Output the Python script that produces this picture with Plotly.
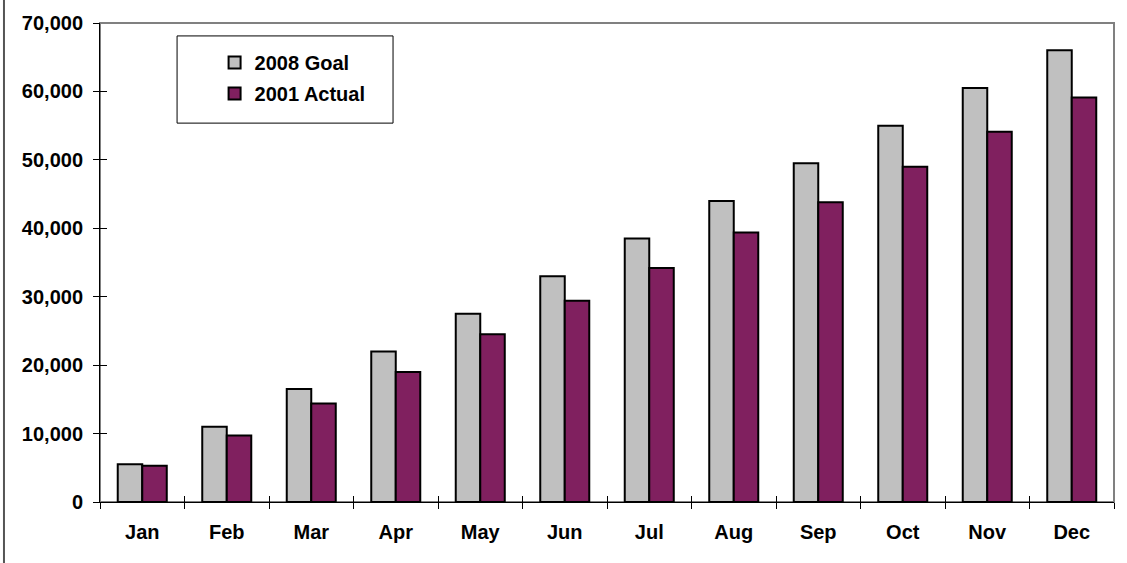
import plotly.graph_objects as go

months = ["Jan", "Feb", "Mar", "Apr", "May", "Jun", "Jul", "Aug", "Sep", "Oct", "Nov", "Dec"]
goal_2008 = [5500, 11000, 16500, 22000, 27500, 33000, 38500, 44000, 49500, 55000, 60500, 66000]
actual_2001 = [5300, 9700, 14400, 19000, 24500, 29400, 34200, 39400, 43800, 49000, 54100, 59100]
y_ticks = [0, 10000, 20000, 30000, 40000, 50000, 60000, 70000]

FONT = "Liberation Sans, Arial, sans-serif"
FS = 20

fig = go.Figure()
fig.add_trace(go.Bar(x=months, y=goal_2008, name="<b>2008 Goal</b>",
                     marker=dict(color="#C0C0C0", line=dict(color="black", width=2)),
                     legendgroup="a"))
fig.add_trace(go.Bar(x=months, y=actual_2001, name="<b>2001 Actual</b>",
                     marker=dict(color="#80205F", line=dict(color="black", width=2)),
                     legendgroup="b"))

fig.update_layout(
    width=1127, height=563,
    margin=dict(l=100, r=13, t=19, b=61),
    paper_bgcolor="white", plot_bgcolor="white",
    barmode="group", bargap=0.42, bargroupgap=0,
    font=dict(family=FONT, size=FS, color="black"),
    showlegend=True,
    legend=dict(x=0.113, y=0.958, xanchor="left", yanchor="top",
                bgcolor="rgba(0,0,0,0)", borderwidth=0,
                font=dict(family=FONT, size=FS, color="black"),
                traceorder="grouped", tracegroupgap=2),
    xaxis=dict(type="category", showline=True, linecolor="black", linewidth=1,
               ticks="outside", tickson="boundaries", ticklen=6, tickcolor="black",
               showgrid=False, tickfont=dict(family=FONT, size=FS, color="black"),
               ticklabelstandoff=12, range=[-0.5, 11.5],
               tickvals=months, ticktext=["<b>%s</b>" % m for m in months]),
    yaxis=dict(range=[0, 70000], tickvals=y_ticks,
               ticktext=["<b>{:,}</b>".format(v) for v in y_ticks],
               showline=True, linecolor="black", linewidth=1,
               ticks="outside", ticklen=6, tickcolor="black", showgrid=False,
               zeroline=False, tickfont=dict(family=FONT, size=FS, color="black"),
               ticklabelstandoff=6),
    xaxis2=dict(overlaying="x", range=[-0.5, 11.5], tickvals=[i - 0.5 for i in range(13)],
                ticks="inside", ticklen=6, tickcolor="black", showticklabels=False,
                showgrid=False, zeroline=False, showline=False, side="bottom",
                anchor="y"),
    yaxis2=dict(overlaying="y", range=[0, 70000], tickvals=y_ticks,
                ticks="inside", ticklen=7, tickcolor="black", showticklabels=False,
                showgrid=False, zeroline=False, showline=False, side="left",
                anchor="x"),
    shapes=[
        dict(type="rect", xref="paper", yref="paper", x0=0, x1=1, y0=0, y1=1,
             line=dict(color="#808080", width=2), layer="below"),
        dict(type="rect", xref="paper", yref="paper", x0=0.076, x1=0.289, y0=0.791, y1=0.973,
             line=dict(color="black", width=1), fillcolor="white", layer="below"),
        dict(type="line", xref="paper", yref="paper", x0=-0.0947, x1=-0.0947, y0=-0.2, y1=1.1,
             line=dict(color="#555555", width=2)),
    ],
)
# invisible trace to activate overlay axes
fig.add_trace(go.Scatter(x=[0], y=[0], xaxis="x2", yaxis="y2", mode="markers",
                         marker=dict(opacity=0), showlegend=False, hoverinfo="skip"))

fig.write_html("out.html", config={"displayModeBar": False},
               post_script="document.body.style.margin='0';document.body.style.padding='0';document.body.style.overflow='hidden';")
